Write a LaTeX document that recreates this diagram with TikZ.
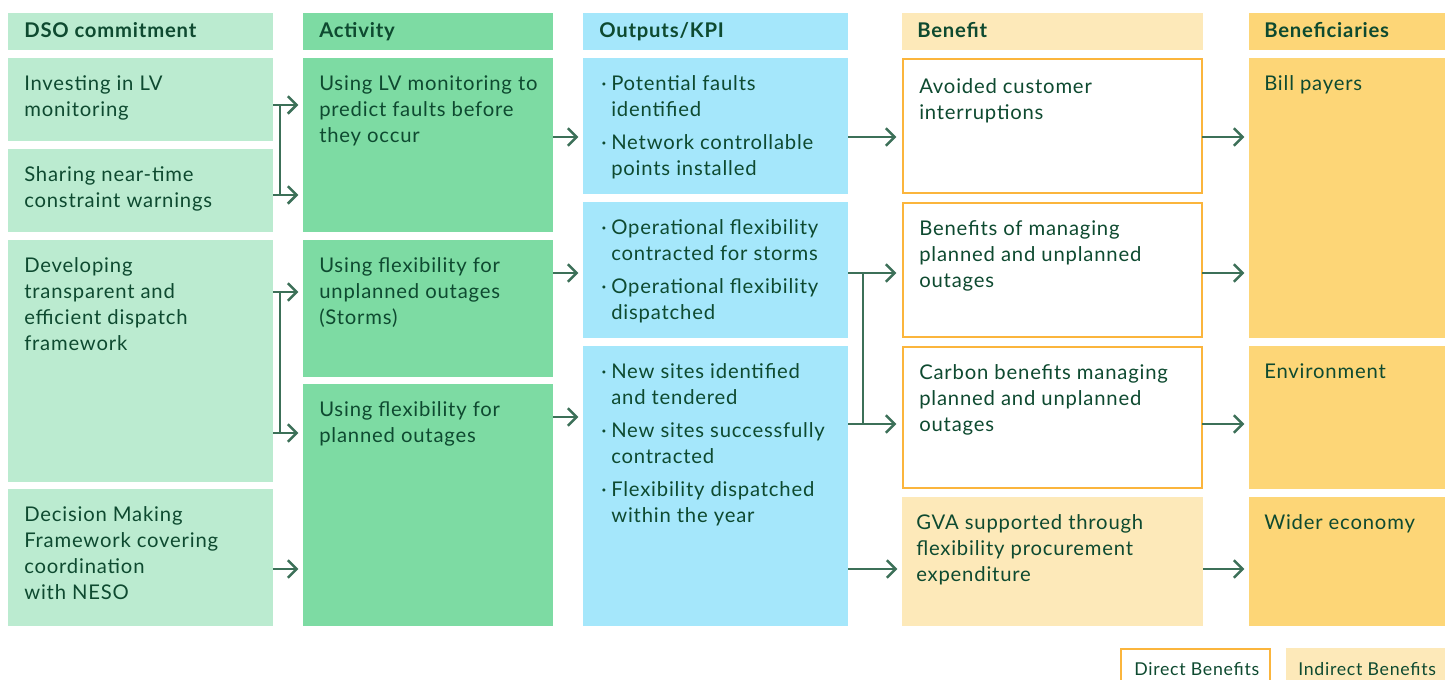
\documentclass[tikz,border=0pt]{standalone}
\usepackage{fontspec}
\setmainfont{Lato}[LetterSpace=4]
\usetikzlibrary{arrows.meta,fit,calc}

\definecolor{commitfill}{HTML}{BBEBD0}
\definecolor{activfill}{HTML}{7DDBA3}
\definecolor{kpifill}{HTML}{A5E7FB}
\definecolor{indirectfill}{HTML}{FDE9B9}
\definecolor{whofill}{HTML}{FDD677}
\definecolor{directline}{HTML}{FBB53C}
\definecolor{txtcol}{HTML}{0E4A30}
\definecolor{linkcol}{HTML}{3C7058}

% hanging bullet for the KPI lists
\newcommand\kpiitem{\llap{\textperiodcentered\hspace{3.5pt}}}

\begin{document}
\begin{tikzpicture}[x=0.75pt,y=-0.75pt,
  cell/.style={inner sep=0pt, outer sep=0pt},
  commit/.style={cell, fill=commitfill},
  activ/.style={cell, fill=activfill},
  kpi/.style={cell, fill=kpifill},
  indirect/.style={cell, fill=indirectfill},
  direct/.style={cell, fill=white, draw=directline, line width=1.6pt},
  who/.style={cell, fill=whofill},
  txt/.style={anchor=north west, align=left, inner sep=0pt, text=txtcol,
    font=\fontsize{15.2}{19.5}\selectfont},
  hdr/.style={txt, font=\bfseries\fontsize{15.2}{19.5}\selectfont},
  keytxt/.style={txt, font=\fontsize{13.3}{17}\selectfont},
  link/.style={draw=linkcol, line width=1.9pt},
  flow/.style={link, -{Straight Barb[length=6.5pt,width=13pt]}, shorten >=3.5pt},
  flowd/.style={flow, shorten >=5pt},
]
\useasboundingbox (0,0) rectangle (1453,680);
\clip (0,0) rectangle (1453,680);

% ---------- column 1: DSO commitment ----------
\node[commit, fit={(8,13)(273,50)}] (h1) {};
\node[commit, fit={(8,58)(273,141)}] (inv) {};
\node[commit, fit={(8,149)(273,232)}] (share) {};
\node[commit, fit={(8,240)(273,482)}] (dev) {};
\node[commit, fit={(8,489)(273,626)}] (dec) {};

\node[hdr] (th1) at ($(h1.north west)+(16,6)$) {\strut DSO commitment};
\node[txt] (tinv) at ($(inv.north west)+(16,14.5)$) {\strut Investing in LV\\monitoring};
\node[txt] (tshare) at ($(share.north west)+(16,14.5)$) {\strut Sharing near-time\\constraint warnings};
\node[txt] (tdev) at ($(dev.north west)+(16,14.5)$) {\strut Developing\\transparent and\\efficient dispatch\\framework};
\node[txt] (tdec) at ($(dec.north west)+(16,14.5)$) {\strut Decision Making\\Framework covering\\coordination\\with NESO};

% ---------- column 2: Activity ----------
\node[activ, fit={(303,13)(553,50)}] (h2) {};
\node[activ, fit={(303,58)(553,232)}] (lv) {};
\node[activ, fit={(303,240)(553,377)}] (unpl) {};
\node[activ, fit={(303,384)(553,626)}] (plan) {};

\node[hdr] (th2) at ($(h2.north west)+(16,6)$) {\strut Activity};
\node[txt] (tlv) at ($(lv.north west)+(16,14.5)$) {\strut Using LV monitoring to\\predict faults before\\they occur};
\node[txt] (tunpl) at ($(unpl.north west)+(16,14.5)$) {\strut Using flexibility for\\unplanned outages\\(Storms)};
\node[txt] (tplan) at ($(plan.north west)+(16,14.5)$) {\strut Using flexibility for\\planned outages};

% ---------- column 3: Outputs/KPI ----------
\node[kpi, fit={(583,13)(848,50)}] (h3) {};
\node[kpi, fit={(583,58)(848,194)}] (o1) {};
\node[kpi, fit={(583,202)(848,338)}] (o2) {};
\node[kpi, fit={(583,346)(848,626)}] (o3) {};

\node[hdr] (th3) at ($(h3.north west)+(16,6)$) {\strut Outputs/KPI};
\node[txt] (to1) at ($(o1.north west)+(28,14.5)$) {\strut\kpiitem Potential faults\\identified\\[5pt]\kpiitem Network controllable\\points installed};
\node[txt] (to2) at ($(o2.north west)+(28,14.5)$) {\strut\kpiitem Operational flexibility\\contracted for storms\\[5pt]\kpiitem Operational flexibility\\dispatched};
\node[txt] (to3) at ($(o3.north west)+(28,14.5)$) {\strut\kpiitem New sites identified\\and tendered\\[5pt]\kpiitem New sites successfully\\contracted\\[5pt]\kpiitem Flexibility dispatched\\within the year};

% ---------- column 4: Benefit ----------
\node[indirect, fit={(902,13)(1203,50)}] (h4) {};
\node[direct, fit={(903,59)(1202,193)}] (avoid) {};
\node[direct, fit={(903,203)(1202,337)}] (bman) {};
\node[direct, fit={(903,347)(1202,488)}] (carb) {};
\node[indirect, fit={(902,497)(1203,626)}] (gva) {};

\node[hdr] (th4) at ($(h4.north west)+(15,6)$) {\strut Benefit};
\node[txt] (tavoid) at ($(avoid.north west)+(16,16.5)$) {\strut Avoided customer\\interruptions};
\node[txt] (tbman) at ($(bman.north west)+(16,14.5)$) {\strut Benefits of managing\\planned and unplanned\\outages};
\node[txt] (tcarb) at ($(carb.north west)+(16,14.5)$) {\strut Carbon benefits managing\\planned and unplanned\\outages};
\node[txt] (tgva) at ($(gva.north west)+(14,14.5)$) {\strut GVA supported through\\flexibility procurement\\expenditure};

% ---------- column 5: Beneficiaries ----------
\node[who, fit={(1249,13)(1445,50)}] (h5) {};
\node[who, fit={(1249,58)(1445,338)}] (bill) {};
\node[who, fit={(1249,346)(1445,489)}] (env) {};
\node[who, fit={(1249,497)(1445,626)}] (wider) {};

\node[hdr] (th5) at ($(h5.north west)+(15,6)$) {\strut Beneficiaries};
\node[txt] (tbill) at ($(bill.north west)+(15,14.5)$) {\strut Bill payers};
\node[txt] (tenv) at ($(env.north west)+(15,14.5)$) {\strut Environment};
\node[txt] (twider) at ($(wider.north west)+(15,14.5)$) {\strut Wider economy};

% ---------- key ----------
\node[direct, fit={(1121,649)(1270,700)}] (kdir) {};
\node[indirect, fit={(1286,648)(1445,700)}] (kind) {};
\node[keytxt] (tkdir) at (1134,659) {\strut Direct Benefits};
\node[keytxt] (tkind) at (1298,659) {\strut Indirect Benefits};

% ---------- connectors ----------
% commitments -> activities
\coordinate (ja) at (280,105);
\coordinate (jb) at (280,195);
\draw[flow] (inv.east |- ja) -- (lv.west |- ja);
\draw[flow] (share.east |- jb) -- (lv.west |- jb);
\draw[link] (ja) -- (jb);

\coordinate (jc) at (280,292);
\coordinate (jd) at (280,433);
\draw[flow] (dev.east |- jc) -- (unpl.west |- jc);
\draw[flow] (dev.east |- jd) -- (plan.west |- jd);
\draw[link] (jc) -- (jd);

\coordinate (je) at (280,569);
\draw[flow] (dec.east |- je) -- (plan.west |- je);

% activities -> outputs
\coordinate (ka) at (570,137);
\coordinate (kb) at (570,273);
\coordinate (kc) at (570,417);
\draw[flow] (lv.east |- ka) -- (o1.west |- ka);
\draw[flow] (unpl.east |- kb) -- (o2.west |- kb);
\draw[flow] (plan.east |- kc) -- (o3.west |- kc);

% outputs -> benefits
\coordinate (ma) at (863,137);
\coordinate (mb) at (863,273);
\coordinate (mc) at (863,424);
\coordinate (md) at (863,569);
\draw[flowd] (o1.east |- ma) -- (avoid.west |- ma);
\draw[flowd] (o2.east |- mb) -- (bman.west |- mb);
\draw[flowd] (o3.east |- mc) -- (carb.west |- mc);
\draw[link] (mb) -- (mc);
\draw[flow] (o3.east |- md) -- (gva.west |- md);

% benefits -> beneficiaries
\draw[flow] (avoid.east |- ma) -- (bill.west |- ma);
\draw[flow] (bman.east |- mb) -- (bill.west |- mb);
\draw[flow] (carb.east |- mc) -- (env.west |- mc);
\draw[flow] (gva.east |- md) -- (wider.west |- md);
\end{tikzpicture}
\end{document}
